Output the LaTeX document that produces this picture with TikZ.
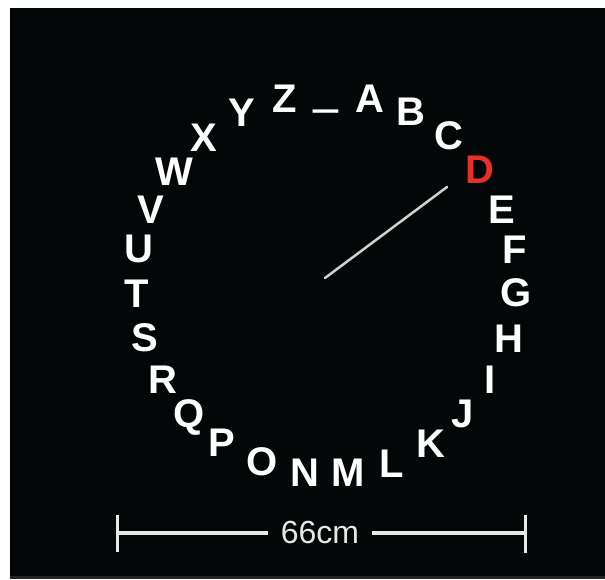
\documentclass[tikz,border=0pt]{standalone}
\usepackage{fontspec}
\setmainfont{Liberation Sans}
\definecolor{bgblack}{RGB}{3,7,8}
\definecolor{barfg}{RGB}{232,232,232}
\definecolor{needlefg}{RGB}{208,208,208}
\definecolor{redletter}{RGB}{232,48,40}
\begin{document}
\begin{tikzpicture}[x=1pt,y=-1pt,
  letter/.style={font=\fontsize{40}{40}\selectfont\bfseries, text=white, inner sep=0pt, anchor=base},
  scaletext/.style={font=\fontsize{32}{32}\selectfont, text=barfg, inner sep=0pt, anchor=base},
  barline/.style={draw=barfg, line width=3.5pt},
  tickline/.style={draw=barfg, line width=3pt},
  needle/.style={draw=needlefg, line width=2.5pt, line cap=round}]
\useasboundingbox (0,0) rectangle (605,579);
\fill[white] (0,0) rectangle (605,579);
\fill[bgblack] (10,8) rectangle (605,576);
\fill[black!85] (10,576) rectangle (605,579);
% letters
\node[letter] (Z) at (284.5,112) {Z};
\node[letter] (us) at (325.5,102.5) {\scalebox{1.12}[2.2]{\_}};
\node[letter] (A) at (370,112) {A};
\node[letter] (B) at (410.5,125) {B};
\node[letter] (C) at (449,149) {C};
\node[letter,text=redletter] (D) at (479.5,183) {D};
\node[letter] (E) at (501.5,223) {E};
\node[letter] (F) at (514.5,263) {F};
\node[letter] (G) at (516,306) {G};
\node[letter] (H) at (508.5,352) {H};
\node[letter] (I) at (490,393) {I};
\node[letter] (J) at (463,427) {J};
\node[letter] (K) at (430.5,457) {K};
\node[letter] (L) at (391.5,477) {L};
\node[letter] (M) at (348,486) {M};
\node[letter] (N) at (304.5,486) {N};
\node[letter] (O) at (262,475) {O};
\node[letter] (P) at (222,456) {P};
\node[letter] (Q) at (189.5,427) {Q};
\node[letter] (R) at (163,393) {R};
\node[letter] (S) at (144.5,351) {S};
\node[letter] (T) at (136.5,307) {T};
\node[letter] (U) at (139,262) {U};
\node[letter] (V) at (150.5,223) {V};
\node[letter] (W) at (174.5,185) {W};
\node[letter] (X) at (204,151) {X};
\node[letter] (Y) at (241.5,126) {Y};
% needle
\coordinate (hub) at (325,278);
\coordinate (tip) at (447,187);
\draw[needle] (hub) -- (tip);
% scale bar
\coordinate (barL) at (117.5,533);
\coordinate (barR) at (525.5,533);
\coordinate (barLt) at (117.5,515);
\coordinate (barLb) at (117.5,552);
\coordinate (barRt) at (525.5,515);
\coordinate (barRb) at (525.5,553);
\node[scaletext] (len) at (320,543) {66cm};
\draw[barline] (barL) -- (268,533);
\draw[barline] (372,533) -- (barR);
\draw[tickline] (barLt) -- (barLb);
\draw[tickline] (barRt) -- (barRb);
\end{tikzpicture}
\end{document}
